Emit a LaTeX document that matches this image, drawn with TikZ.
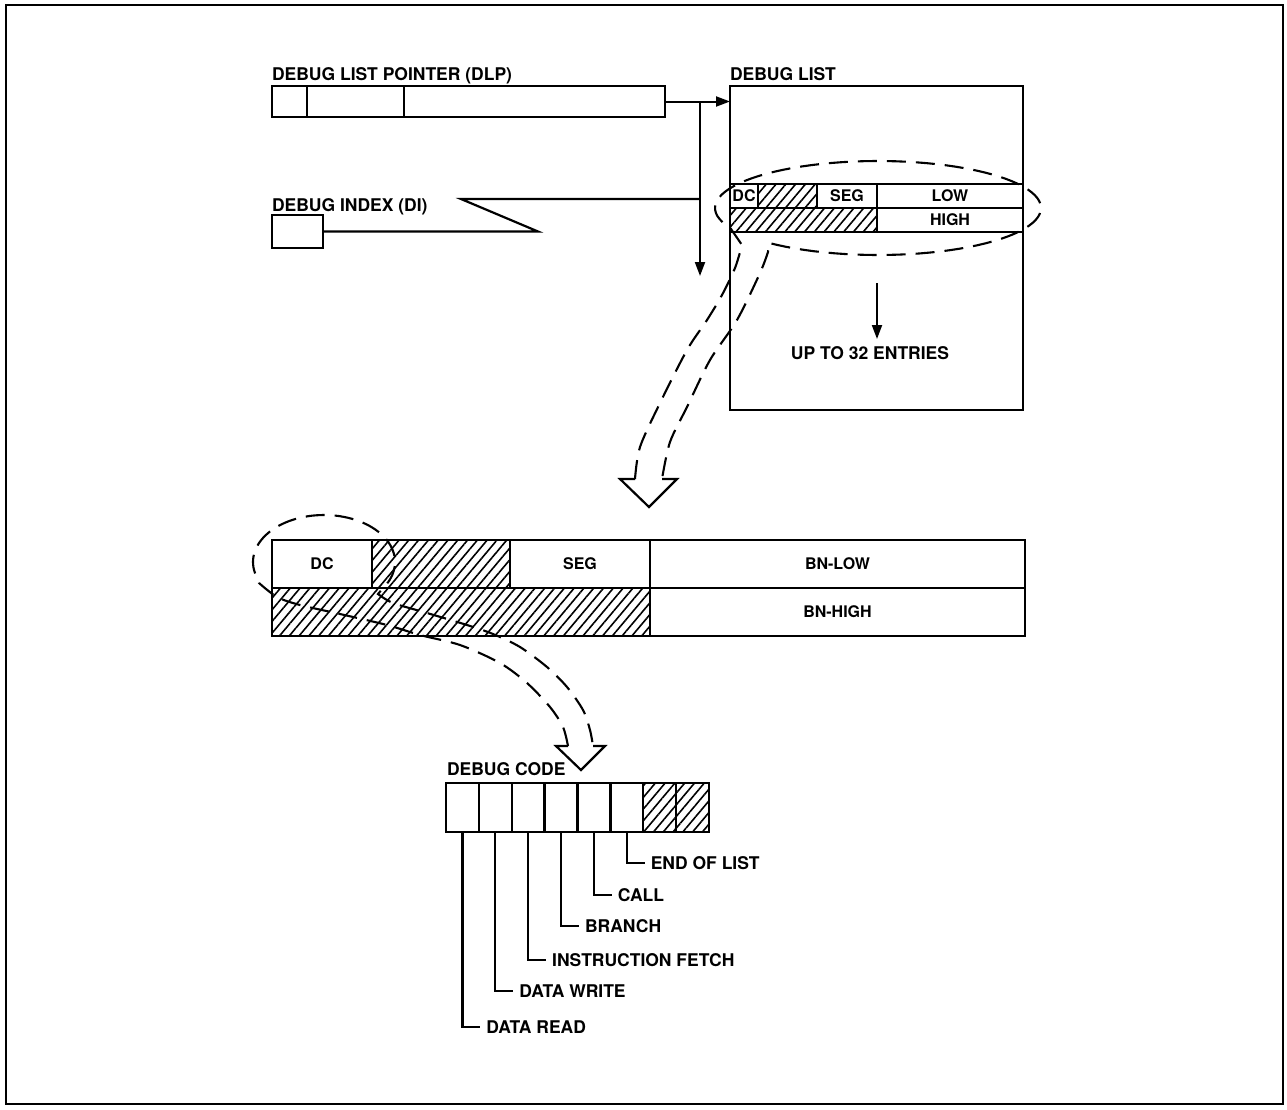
\documentclass[tikz,border=0pt]{standalone}
\usepackage{fontspec}
\setmainfont{TeX Gyre Heros}
\usetikzlibrary{arrows.meta,positioning,calc,patterns.meta}

\begin{document}
\begin{tikzpicture}[x=1pt,y=-1pt,
    every node/.style={font=\fontsize{17.5}{20}\selectfont\bfseries,inner sep=0pt,outer sep=0pt},
    box/.style={draw,line width=2.4pt},
    hatch/.style={pattern={Lines[angle=50,distance=7.5pt,line width=1.6pt]}},
    small/.style={font=\fontsize{16}{18}\selectfont\bfseries},
    arr/.style={line width=2pt,-{Triangle[length=14pt,width=10pt]}},
    line/.style={line width=2.2pt,line join=miter},
    dsh/.style={line width=2.1pt,dash pattern=on 19pt off 10pt},
    lbl/.style={anchor=west,inner xsep=6pt}
]
\useasboundingbox (0,0) rectangle (1287,1109);
\draw[line width=2.8pt] (6,5) rectangle (1283,1104);

\node[anchor=base west] (dlpl) at (272,80) {DEBUG LIST POINTER (DLP)};
\node[box,minimum width=35pt,minimum height=31pt]  (d1) at (289.5,101.5) {};
\node[box,minimum width=97pt,minimum height=31pt]  (d2) at (355.5,101.5) {};
\node[box,minimum width=261pt,minimum height=31pt] (d3) at (534.5,101.5) {};

\node[anchor=base west] (dil) at (272,211) {DEBUG INDEX (DI)};
\node[box,minimum width=51pt,minimum height=33pt] (di) at (297.5,231.5) {};

\node[anchor=base west] (dll) at (730,80) {DEBUG LIST};
\node[box,minimum width=293pt,minimum height=324pt] (dl) at (876.5,248) {};

\draw[arr] (d3.east) -- (d3.east -| dl.west);
\coordinate (v) at (700,101.5);
\coordinate (vend) at (700,276);
\draw[arr] (v) -- (vend);
\coordinate (z1) at (538,231.5);
\coordinate (z2) at (461,199);
\draw[line] (di.east) -- (z1) -- (z2) -- (z2 -| v);

\node[box,small,minimum width=28pt,minimum height=24pt]        (e1) at (744,196) {DC};
\node[box,hatch,minimum width=59pt,minimum height=24pt]        (e2) at (787.5,196) {};
\node[box,small,minimum width=60pt,minimum height=24pt]        (e3) at (847,196) {SEG};
\node[box,small,minimum width=146pt,minimum height=24pt]       (e4) at (950,196) {LOW};
\node[box,hatch,minimum width=147pt,minimum height=24pt]       (e5) at (803.5,220) {};
\node[box,small,minimum width=146pt,minimum height=24pt]       (e6) at (950,220) {HIGH};

\coordinate (u1) at (877,283);
\coordinate (u2) at (877,339);
\draw[arr] (u1) -- (u2);
\node[anchor=base] (upl) at (870,359) {UP TO 32 ENTRIES};

\node[box,small,minimum width=100pt,minimum height=48pt] (m1) at (322,564) {DC};
\node[box,hatch,minimum width=138pt,minimum height=48pt] (m2) at (441,564) {};
\node[box,small,minimum width=140pt,minimum height=48pt] (m3) at (580,564) {SEG};
\node[box,small,minimum width=375pt,minimum height=48pt] (m4) at (837.5,564) {BN-LOW};
\node[box,hatch,minimum width=378pt,minimum height=48pt] (m5) at (461,612) {};
\node[box,small,minimum width=375pt,minimum height=48pt] (m6) at (837.5,612) {BN-HIGH};

\draw[dsh] plot[smooth] coordinates {(635,479) (640,447) (660,403) (687,350) (707,320) (722,295) (735,268) (742,245)}
  -- (731,229)
  -- plot[domain=155:492,samples=90] ({878+163*cos(\x)},{208+47*sin(\x)})
  -- plot[smooth] coordinates {(768,252) (760,273) (737,320) (710,360) (687,407) (670,442) (662,479)};
\draw[line] (635,479) -- (620,479) -- (649,507) -- (677,479) -- (662,479);

\draw[dsh] plot[smooth] coordinates {(568,746) (563,727) (550,707) (527,683) (500,663) (460,645) (420,635) (387,625) (340,614) (300,605) (277,597) (259,583)}
  -- plot[domain=158:385,samples=70] ({324+71*cos(\x)},{562+47*sin(\x)})
  -- plot[smooth] coordinates {(378,594) (393,603) (427,613) (467,625) (493,634) (520,647) (547,667) (567,687) (583,710) (590,730) (593,746)};
\draw[line] (568,746) -- (556,746) -- (581,770) -- (605,746) -- (593,746);

\node[anchor=base west] (dcl) at (447,775) {DEBUG CODE};
\foreach \i in {1,...,6}
  \node[box,minimum width=32.9pt,minimum height=49pt] (c\i) at ({446+32.875*(\i-0.5)},807.5) {};
\foreach \i in {7,8}
  \node[box,hatch,minimum width=32.9pt,minimum height=49pt] (c\i) at ({446+32.875*(\i-0.5)},807.5) {};

\foreach \i/\y/\t in {1/1027/DATA READ,2/991/DATA WRITE,3/960/INSTRUCTION FETCH,4/926/BRANCH,5/895/CALL,6/863/END OF LIST} {
  \node[lbl] (l\i) at ({446+32.875*(\i-0.5)+18},\y) {\t};
  \draw[line] (c\i.south) |- (l\i.west);
}
\end{tikzpicture}
\end{document}
